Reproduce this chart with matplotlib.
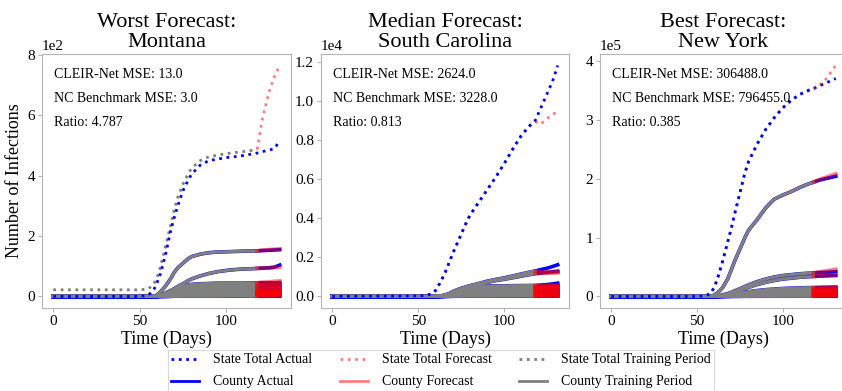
import matplotlib
matplotlib.use("Agg")
import matplotlib.pyplot as plt
from matplotlib.lines import Line2D

plt.rcParams['font.family'] = ['Liberation Serif', 'DejaVu Serif']

# ---------------- data ----------------
titles = ["Worst Forecast:\nMontana", "Median Forecast:\nSouth Carolina", "Best Forecast:\nNew York"]
notes = [["CLEIR-Net MSE: 13.0", "NC Benchmark MSE: 3.0", "Ratio: 4.787"],
         ["CLEIR-Net MSE: 2624.0", "NC Benchmark MSE: 3228.0", "Ratio: 0.813"],
         ["CLEIR-Net MSE: 306488.0", "NC Benchmark MSE: 796455.0", "Ratio: 0.385"]]

days = [0, 50, 55, 58, 60, 62, 65, 68, 70, 72, 75, 78, 80, 85, 90, 95, 100, 105, 110, 115, 118, 121, 125, 128, 131]
train_end_day = 118
fc_days = [118, 121, 125, 128, 131]

# Montana
mt_state_actual = [0, 0, 5, 20, 45, 75, 140, 220, 262, 300, 350, 385, 405, 435, 450, 455, 460, 463, 467, 472, 475, 480, 485, 490, 515]
mt_state_train = [22, 22, 25, 40, 62, 98, 168, 238, 288, 328, 372, 405, 425, 450, 463, 468, 473, 477, 480, 484, 487]
mt_state_fc = [487, 590, 680, 730, 765]
mt_county_actual = [
    [0, 0, 0, 0, 5, 15, 35, 60, 80, 95, 110, 125, 132, 140, 145, 147, 148, 149, 150, 151, 151, 152, 153, 154, 155],
    [0, 0, 0, 0, 2, 5, 12, 20, 26, 33, 42, 52, 58, 68, 76, 82, 86, 89, 91, 92, 93, 94, 95, 97, 104],
    [0, 0, 0, 0, 2, 5, 10, 17, 22, 27, 33, 38, 40, 42, 43, 44, 44, 44, 44, 45, 45, 45, 45, 45, 46],
    [0, 0, 0, 0, 1, 4, 9, 15, 20, 24, 30, 34, 36, 37, 38, 39, 39, 39, 40, 40, 40, 40, 40, 40, 40],
    [0, 0, 0, 0, 1, 3, 8, 13, 17, 21, 26, 30, 32, 33, 34, 34, 35, 35, 35, 35, 35, 35, 35, 35, 35],
    [0, 0, 0, 0, 1, 3, 7, 12, 16, 20, 24, 27, 28, 29, 30, 30, 30, 30, 30, 30, 30, 30, 30, 31, 31],
    [0, 0, 0, 0, 0, 2, 5, 9, 12, 15, 19, 22, 23, 24, 25, 25, 25, 25, 25, 25, 25, 25, 26, 26, 26],
    [0, 0, 0, 0, 0, 2, 4, 7, 10, 12, 15, 17, 18, 19, 20, 20, 20, 20, 20, 20, 20, 20, 20, 21, 21],
    [0, 0, 0, 0, 0, 1, 4, 7, 9, 11, 13, 15, 16, 16, 17, 17, 17, 17, 17, 17, 17, 17, 17, 17, 17],
    [0, 0, 0, 0, 0, 1, 3, 5, 7, 9, 11, 13, 14, 15, 15, 15, 15, 15, 15, 15, 15, 15, 15, 15, 16],
    [0, 0, 0, 0, 0, 1, 3, 6, 8, 9, 11, 12, 12, 12, 12, 12, 12, 12, 12, 12, 12, 12, 12, 12, 12],
    [0, 0, 0, 0, 0, 1, 2, 4, 5, 6, 8, 9, 10, 10, 10, 10, 10, 10, 10, 10, 10, 10, 10, 10, 11],
    [0, 0, 0, 0, 0, 1, 2, 3, 4, 5, 6, 7, 7, 8, 8, 8, 8, 8, 8, 8, 8, 8, 8, 8, 8],
    [0, 0, 0, 0, 0, 0, 1, 2, 3, 4, 4, 5, 5, 5, 6, 6, 6, 6, 6, 6, 6, 6, 6, 6, 6],
    [0, 0, 0, 0, 0, 1, 1, 2, 2, 3, 3, 4, 4, 4, 4, 4, 4, 4, 4, 4, 4, 4, 4, 4, 4],
    [0, 0, 0, 0, 0, 0, 0, 1, 1, 1, 2, 2, 2, 2, 2, 2, 3, 3, 3, 3, 3, 3, 3, 3, 3],
    [0, 0, 0, 0, 0, 0, 0, 0, 1, 1, 1, 1, 1, 1, 1, 1, 1, 1, 1, 1, 1, 1, 1, 1, 1],
]
mt_county_fc = [
    [151, 153, 155, 156, 157], [93, 94, 95, 96, 97], [45, 47, 48, 50, 51], [40, 41, 43, 44, 45],
    [35, 36, 37, 38, 39], [30, 31, 32, 33, 34], [25, 26, 27, 28, 28], [20, 21, 22, 22, 23],
    [17, 18, 18, 19, 19], [15, 16, 16, 17, 17], [12, 13, 13, 14, 14], [10, 11, 11, 12, 12],
    [8, 8, 9, 9, 9], [6, 6, 7, 7, 7], [4, 4, 5, 5, 5], [3, 3, 3, 4, 4], [1, 1, 1, 2, 2],
]

# South Carolina
sc_state_actual = [0, 30, 60, 150, 300, 600, 1100, 1750, 2200, 2600, 3200, 3800, 4150, 4800, 5450, 6100, 6800, 7550, 8250, 8750, 9000, 9600, 10400, 11000, 11800]
sc_state_train = [0, 30, 60, 150, 300, 600, 1100, 1750, 2200, 2600, 3200, 3800, 4150, 4800, 5450, 6100, 6800, 7550, 8250, 8750, 8950]
sc_state_fc = [8950, 8800, 9100, 9300, 9450]
sc_county_actual = [
    [0, 0, 0, 0, 5, 20, 60, 150, 250, 320, 420, 500, 550, 660, 780, 870, 950, 1050, 1150, 1250, 1300, 1370, 1450, 1530, 1620],
    [0, 0, 0, 0, 5, 15, 50, 130, 220, 290, 380, 460, 510, 610, 720, 810, 880, 960, 1040, 1120, 1170, 1200, 1230, 1260, 1290],
    [0, 0, 0, 0, 3, 10, 40, 120, 200, 280, 380, 460, 500, 520, 530, 540, 545, 550, 555, 560, 560, 580, 610, 640, 680],
    [0, 0, 0, 0, 2, 9, 35, 110, 185, 260, 355, 430, 465, 485, 495, 502, 508, 512, 516, 520, 520, 530, 545, 560, 575],
    [0, 0, 0, 0, 2, 8, 30, 100, 170, 240, 330, 400, 430, 450, 460, 465, 470, 475, 478, 480, 480, 490, 500, 510, 520],
    [0, 0, 0, 0, 2, 7, 28, 90, 155, 220, 300, 365, 395, 412, 422, 428, 432, 436, 438, 440, 440, 446, 452, 458, 465],
    [0, 0, 0, 0, 2, 6, 25, 80, 140, 200, 270, 330, 360, 375, 385, 390, 395, 398, 400, 400, 400, 405, 410, 415, 420],
    [0, 0, 0, 0, 1, 5, 22, 70, 125, 175, 235, 290, 315, 330, 340, 345, 350, 352, 354, 355, 355, 358, 362, 366, 370],
    [0, 0, 0, 0, 1, 5, 20, 60, 110, 150, 200, 250, 270, 285, 295, 300, 305, 308, 310, 310, 310, 312, 315, 318, 320],
    [0, 0, 0, 0, 1, 4, 16, 50, 90, 125, 165, 205, 225, 237, 245, 250, 253, 255, 257, 258, 258, 260, 262, 264, 266],
    [0, 0, 0, 0, 1, 3, 12, 40, 70, 100, 130, 160, 180, 190, 195, 200, 202, 205, 207, 208, 208, 210, 212, 214, 215],
    [0, 0, 0, 0, 0, 2, 9, 30, 52, 75, 97, 120, 135, 143, 148, 151, 153, 155, 156, 157, 157, 158, 159, 160, 161],
    [0, 0, 0, 0, 0, 2, 6, 20, 35, 50, 65, 80, 90, 95, 98, 100, 102, 103, 104, 105, 105, 106, 107, 108, 110],
    [0, 0, 0, 0, 0, 1, 4, 13, 23, 33, 43, 53, 58, 62, 65, 66, 67, 68, 68, 69, 69, 70, 70, 71, 72],
    [0, 0, 0, 0, 0, 1, 3, 8, 14, 20, 26, 32, 35, 38, 39, 40, 40, 41, 41, 42, 42, 42, 43, 43, 44],
    [0, 0, 0, 0, 0, 0, 1, 4, 6, 9, 12, 15, 16, 17, 18, 18, 19, 19, 19, 20, 20, 20, 20, 21, 21],
]
sc_county_fc = [
    [1300, 1270, 1250, 1245, 1250], [1170, 1180, 1190, 1200, 1210], [560, 565, 570, 575, 580],
    [520, 524, 528, 532, 536], [480, 485, 490, 495, 500], [440, 444, 448, 452, 456],
    [400, 405, 410, 412, 415], [355, 358, 361, 364, 367], [310, 312, 315, 318, 320],
    [258, 260, 262, 264, 266], [208, 210, 212, 214, 216], [157, 158, 159, 160, 161],
    [105, 106, 107, 108, 109], [69, 70, 70, 71, 72], [42, 42, 43, 43, 44], [20, 20, 20, 21, 21],
]

# New York
ny_state_actual = [0, 0, 1000, 5000, 15000, 30000, 60000, 93000, 115000, 140000, 175000, 210000, 228000, 258000, 283000, 303000, 320000, 333000, 343000, 350000, 353000, 357000, 362000, 366000, 370000]
ny_state_train = [0, 0, 1000, 5000, 15000, 30000, 60000, 93000, 115000, 140000, 175000, 210000, 228000, 258000, 283000, 303000, 320000, 333000, 343000, 349000, 352000]
ny_state_fc = [352000, 357000, 368000, 380000, 392000]
ny_county_actual = [
    [0, 0, 0, 500, 2000, 6000, 15000, 30000, 45000, 60000, 80000, 100000, 112000, 130000, 150000, 165000, 172000, 178000, 185000, 191000, 194000, 197000, 200000, 202000, 204000],
    [0, 0, 0, 0, 200, 800, 2500, 5000, 7000, 9500, 13000, 17000, 19500, 25000, 29500, 33000, 35500, 37000, 38500, 39500, 40000, 40500, 41000, 41500, 42000],
    [0, 0, 0, 0, 100, 500, 1500, 3500, 5000, 7000, 10000, 13500, 15500, 20000, 24000, 27000, 29500, 31000, 32500, 33500, 34000, 34500, 35000, 35300, 35600],
    [0, 0, 0, 0, 100, 300, 1000, 2000, 3000, 4000, 5500, 7000, 8000, 10000, 11500, 12500, 13500, 14000, 14500, 15000, 15000, 15200, 15400, 15600, 15800],
    [0, 0, 0, 0, 60, 250, 850, 1750, 2650, 3550, 4900, 6200, 7100, 8900, 10300, 11200, 12100, 12600, 13000, 13400, 13500, 13650, 13800, 13950, 14100],
    [0, 0, 0, 0, 50, 200, 700, 1500, 2300, 3100, 4300, 5500, 6300, 7900, 9100, 10000, 10700, 11200, 11600, 11900, 12000, 12100, 12200, 12300, 12400],
    [0, 0, 0, 0, 40, 170, 600, 1300, 2000, 2700, 3700, 4800, 5500, 6900, 8000, 8700, 9300, 9800, 10100, 10400, 10500, 10600, 10700, 10800, 10900],
    [0, 0, 0, 0, 30, 150, 500, 1100, 1700, 2300, 3200, 4100, 4700, 5900, 6800, 7500, 8000, 8400, 8700, 8900, 9000, 9100, 9150, 9200, 9250],
    [0, 0, 0, 0, 25, 120, 400, 900, 1400, 1900, 2650, 3400, 3900, 4900, 5700, 6200, 6700, 7000, 7200, 7400, 7500, 7560, 7620, 7680, 7740],
    [0, 0, 0, 0, 20, 100, 300, 700, 1100, 1500, 2100, 2700, 3100, 3900, 4500, 5000, 5400, 5600, 5800, 5900, 6000, 6050, 6100, 6150, 6200],
    [0, 0, 0, 0, 15, 70, 220, 500, 800, 1050, 1450, 1850, 2100, 2650, 3050, 3350, 3600, 3750, 3850, 3950, 4000, 4030, 4060, 4090, 4120],
    [0, 0, 0, 0, 10, 50, 150, 350, 550, 750, 1050, 1350, 1550, 1950, 2250, 2500, 2700, 2800, 2900, 2950, 3000, 3020, 3050, 3080, 3100],
    [0, 0, 0, 0, 5, 35, 100, 230, 360, 500, 700, 900, 1030, 1300, 1500, 1650, 1800, 1870, 1930, 1970, 2000, 2015, 2030, 2045, 2060],
    [0, 0, 0, 0, 0, 20, 50, 120, 180, 250, 350, 450, 520, 650, 750, 830, 900, 930, 960, 980, 1000, 1010, 1020, 1030, 1040],
    [0, 0, 0, 0, 0, 10, 25, 60, 90, 125, 175, 225, 260, 325, 375, 415, 450, 465, 480, 490, 500, 505, 510, 515, 520],
]
ny_county_fc = [
    [194000, 198000, 202000, 205000, 208000], [40000, 41500, 43000, 44500, 46000],
    [34000, 34800, 35500, 36200, 37000], [15000, 15300, 15600, 15900, 16200],
    [13500, 13700, 13900, 14100, 14300], [12000, 12200, 12400, 12600, 12800],
    [10500, 10650, 10800, 10950, 11100], [9000, 9150, 9300, 9450, 9600],
    [7500, 7600, 7700, 7800, 7900], [6000, 6100, 6200, 6300, 6400],
    [4000, 4060, 4120, 4180, 4240], [3000, 3050, 3100, 3150, 3200],
    [2000, 2030, 2060, 2090, 2120], [1000, 1010, 1020, 1030, 1040], [500, 505, 510, 515, 520],
]

panels = [
    (mt_state_actual, mt_state_train, mt_state_fc, mt_county_actual, mt_county_fc),
    (sc_state_actual, sc_state_train, sc_state_fc, sc_county_actual, sc_county_fc),
    (ny_state_actual, ny_state_train, ny_state_fc, ny_county_actual, ny_county_fc),
]

# ---------------- figure ----------------
W, H = 842, 391
fig = plt.figure(figsize=(W / 100, H / 100), dpi=100)
lefts = [42, 321, 600]
widths = [249, 248, 247]
bottom_px, top_px = 308, 54

n_train = days.index(train_end_day) + 1
spine_col = '#b4b4b4'

for i, (st_a, st_t, st_f, c_a, c_f) in enumerate(panels):
    ax = fig.add_axes([lefts[i] / W, (H - bottom_px) / H, widths[i] / W, (bottom_px - top_px) / H])
    for ca in c_a:
        ax.plot(days, ca, color='blue', lw=2.6)
    for ca in c_a:
        ax.plot(days[:n_train], ca[:n_train], color='gray', lw=2.2)
    for cf in c_f:
        ax.plot(fc_days, cf, color='red', alpha=0.5, lw=2.8)
    ax.plot(days[:len(st_t)], st_t, color='gray', ls=':', lw=2)
    ax.plot(days, st_a, color='blue', ls=':', lw=2)
    ax.plot(fc_days, st_f, color='red', alpha=0.5, ls=':', lw=2)

    ax.ticklabel_format(axis='y', style='sci', scilimits=(0, 0))
    ot = ax.yaxis.get_offset_text()
    ot.set_fontsize(11)
    ot.set_verticalalignment('baseline')
    ax.tick_params(labelsize=11, color=spine_col, length=3, pad=2)
    for s in ax.spines.values():
        s.set_color(spine_col)
    ax.set_xticks([0, 50, 100])
    ax.set_xlabel("Time (Days)", fontsize=13, labelpad=2)
    ax.set_title(titles[i], fontsize=16, pad=5, linespacing=1.05)
    for k, t in enumerate(notes[i]):
        ax.text(0.048, 0.92 - k * 0.094, t, transform=ax.transAxes, fontsize=10, va='center', ha='left')
    if i == 0:
        ax.set_ylabel("Number of Infections", fontsize=13, labelpad=3)

handles = [
    Line2D([], [], color='blue', ls=':', lw=2),
    Line2D([], [], color='blue', lw=2),
    Line2D([], [], color='red', alpha=0.5, ls=':', lw=2),
    Line2D([], [], color='red', alpha=0.5, lw=2),
    Line2D([], [], color='gray', ls=':', lw=2),
    Line2D([], [], color='gray', lw=2),
]
labels = ["State Total Actual", "County Actual", "State Total Forecast",
          "County Forecast", "State Total Training Period", "County Training Period"]
leg = fig.legend(handles, labels, loc='upper left', bbox_to_anchor=(168 / W, (H - 350) / H), ncol=3,
                 fontsize=10, frameon=True, fancybox=False, edgecolor='#d0d0d0',
                 borderpad=0.25, labelspacing=0.65, borderaxespad=0, columnspacing=2.0,
                 handletextpad=1.0)
leg.get_frame().set_linewidth(0.8)

fig.savefig("out.png", dpi=100)
